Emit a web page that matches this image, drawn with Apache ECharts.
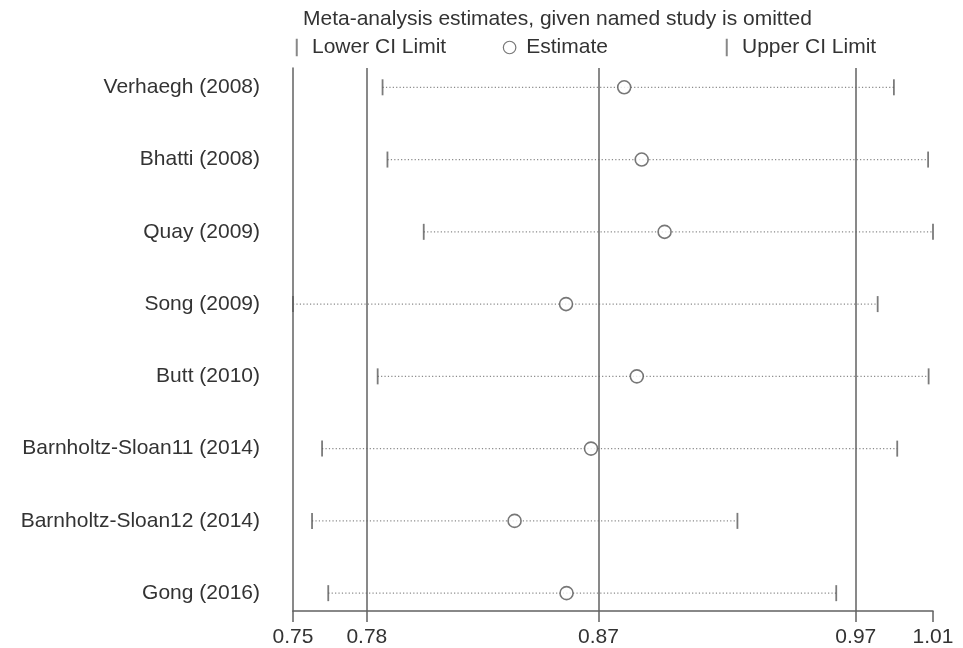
<!DOCTYPE html>
<html>
<head>
<meta charset="utf-8">
<script src="https://cdn.jsdelivr.net/npm/echarts@6/dist/echarts.min.js"></script>
<style>html,body{margin:0;padding:0;background:#fff}#c{width:963px;height:648px}</style>
</head>
<body>
<div id="c"></div>
<script>
const studies = ['Verhaegh (2008)','Bhatti (2008)','Quay (2009)','Song (2009)','Butt (2010)','Barnholtz-Sloan11 (2014)','Barnholtz-Sloan12 (2014)','Gong (2016)'];
const lowerCI = [0.7861, 0.7880, 0.8021, 0.7513, 0.7842, 0.7626, 0.7587, 0.7650];
const estimates = [0.8800, 0.8868, 0.8957, 0.8574, 0.8849, 0.8671, 0.8374, 0.8576];
const upperCI = [0.9848, 0.9981, 1.0000, 0.9785, 0.9983, 0.9861, 0.9240, 0.9624];
const overall = [0.78, 0.87, 0.97];
const xTickValues = [0.7513, 0.78, 0.87, 0.97, 1.0000];
const xTickLabels = ['0.75', '0.78', '0.87', '0.97', '1.01'];

const FONT = "'Liberation Sans', Arial, sans-serif";
const TXT = '#333';
const LINE = '#626262';
const rowIdx = studies.map((_, i) => i + 1);

function nearestLabel(v) {
  let best = 0, d = Infinity;
  xTickValues.forEach((t, i) => { const dd = Math.abs(t - v); if (dd < d) { d = dd; best = i; } });
  return xTickLabels[best];
}

const barIcon = 'path://M0,0L0,0M7,0L8.6,0L8.6,14L7,14ZM16,14L16,14';
const circIcon = 'path://M0,0L0,0M13,7A5,5,0,1,1,3,7A5,5,0,1,1,13,7ZM17,14L17,14';

const chart = echarts.init(document.getElementById('c'), null, {renderer: 'canvas'});
chart.setOption({
  animation: false,
  backgroundColor: '#fff',
  title: {
    text: 'Meta-analysis estimates, given named study is omitted',
    left: 303, top: 9, padding: 0,
    textStyle: {fontSize: 21, fontWeight: 'normal', color: TXT, fontFamily: FONT}
  },
  legend: [
    {data: ['Lower CI Limit'], left: 287, top: 37, padding: 0, selectedMode: false,
     icon: barIcon, itemWidth: 20, itemHeight: 17.5,
     itemStyle: {color: '#6a6a6a', borderWidth: 0},
     textStyle: {fontSize: 21, color: TXT, fontFamily: FONT}},
    {data: ['Estimate'], left: 499, top: 37, padding: 0, selectedMode: false,
     icon: circIcon, itemWidth: 22, itemHeight: 17.5,
     itemStyle: {color: '#fff', borderColor: '#555', borderWidth: 1.2},
     textStyle: {fontSize: 21, color: TXT, fontFamily: FONT}},
    {data: ['Upper CI Limit'], left: 717, top: 37, padding: 0, selectedMode: false,
     icon: barIcon, itemWidth: 20, itemHeight: 17.5,
     itemStyle: {color: '#6a6a6a', borderWidth: 0},
     textStyle: {fontSize: 21, color: TXT, fontFamily: FONT}}
  ],
  grid: {left: 293, right: 30, top: 68, bottom: 36},
  xAxis: {
    type: 'value',
    min: xTickValues[0], max: xTickValues[xTickValues.length - 1],
    axisLine: {show: true, lineStyle: {color: LINE, width: 1.5}},
    axisTick: {show: true, customValues: xTickValues, length: 11, inside: false, lineStyle: {color: LINE, width: 1.5}},
    axisLabel: {customValues: xTickValues, formatter: v => nearestLabel(v), margin: 16,
      fontSize: 21, color: TXT, fontFamily: FONT},
    splitLine: {show: false}
  },
  yAxis: {
    type: 'value', inverse: true, min: 0.733, max: 8.247,
    axisLine: {show: true, lineStyle: {color: LINE, width: 1.5}},
    axisTick: {show: false},
    axisLabel: {customValues: rowIdx, formatter: v => studies[Math.round(v) - 1] || '',
      margin: 33, fontSize: 21, color: TXT, fontFamily: FONT},
    splitLine: {show: false}
  },
  series: [
    {
      type: 'custom', name: 'ci', silent: true, z: 1,
      encode: {x: [0, 1], y: 2},
      data: studies.map((_, i) => [lowerCI[i], upperCI[i], rowIdx[i]]),
      renderItem: function (params, api) {
        const y = api.value(2);
        const p1 = api.coord([api.value(0), y]);
        const p2 = api.coord([api.value(1), y]);
        return {type: 'line', shape: {x1: p1[0], y1: p1[1], x2: p2[0], y2: p2[1]},
          style: {stroke: '#8a8a8a', lineWidth: 1.2, lineDash: [1.2, 2.2]}};
      },
      markLine: {
        silent: true, symbol: 'none', label: {show: false},
        lineStyle: {color: LINE, width: 1.5, type: 'solid'},
        data: overall.map(v => ({xAxis: v}))
      }
    },
    {
      type: 'scatter', name: 'Lower CI Limit', z: 3,
      symbol: 'rect', symbolSize: [1.8, 16],
      itemStyle: {color: '#5a5a5a'},
      data: studies.map((_, i) => [lowerCI[i], rowIdx[i]])
    },
    {
      type: 'scatter', name: 'Upper CI Limit', z: 3,
      symbol: 'rect', symbolSize: [1.8, 16],
      itemStyle: {color: '#5a5a5a'},
      data: studies.map((_, i) => [upperCI[i], rowIdx[i]])
    },
    {
      type: 'scatter', name: 'Estimate', z: 4,
      symbol: 'circle', symbolSize: 13,
      itemStyle: {color: '#fff', borderColor: '#555', borderWidth: 1.6},
      data: studies.map((_, i) => [estimates[i], rowIdx[i]])
    }
  ]
});
</script>
</body>
</html>
